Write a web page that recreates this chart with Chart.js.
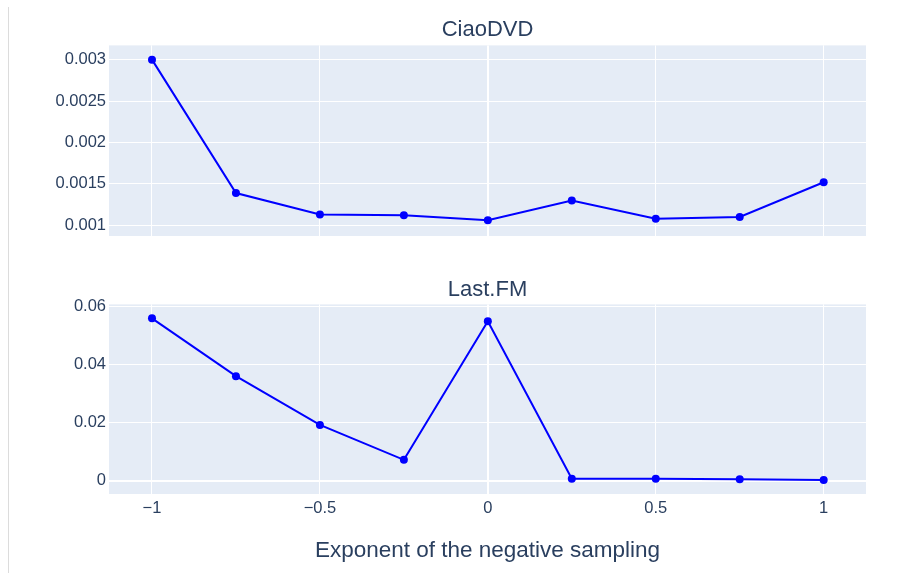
<!DOCTYPE html>
<html lang="en">
<head>
  <meta charset="UTF-8">
  <title>Exponent of the negative sampling</title>
  <script src="https://cdn.jsdelivr.net/npm/chart.js"></script>
  <style>
    body {
      margin: 0;
      background: #fff;
      width: 909px;
      height: 573px;
      position: relative;
      overflow: hidden;
      font-family: "Liberation Sans", Arial, sans-serif;
    }
    #edge {
      position: absolute;
      left: 8px;
      top: 7px;
      width: 1px;
      height: 566px;
      background: #dcdcdc;
    }
    canvas { position: absolute; left: 0; }
    #topChart { top: 0; }
    #bottomChart { top: 250px; }
  </style>
</head>
<body>
  <div id="edge"></div>
  <canvas id="topChart" width="909" height="250"></canvas>
  <canvas id="bottomChart" width="909" height="323"></canvas>

  <script>
    // exponent values (x)
    const exponents = [-1, -0.75, -0.5, -0.25, 0, 0.25, 0.5, 0.75, 1];
    // CiaoDVD
    const ciaoValues = [0.003, 0.00139, 0.00113, 0.00112, 0.00106, 0.0013, 0.00108, 0.0011, 0.00152];
    // Last.FM
    const lastfmValues = [0.0559, 0.036, 0.0192, 0.0072, 0.0549, 0.0007, 0.0007, 0.0005, 0.0003];

    const xTicks = [-1, -0.5, 0, 0.5, 1];
    const ciaoTicks = [0.001, 0.0015, 0.002, 0.0025, 0.003];
    const lastfmTicks = [0, 0.02, 0.04, 0.06];

    const fontFam = '"Liberation Sans", Arial, sans-serif';
    const textCol = '#2a3f5f';

    // fond du plot
    const bgPlugin = {
      id: 'plotBg',
      beforeDraw(chart) {
        const a = chart.chartArea;
        chart.ctx.save();
        chart.ctx.fillStyle = '#e5ecf6';
        chart.ctx.fillRect(a.left, a.top, a.right - a.left, a.bottom - a.top);
        chart.ctx.restore();
      }
    };

    function fmt(v) {
      return String(v).replace('-', '\u2212');
    }

    function zeroWidth(c) {
      return c.tick && c.tick.value === 0 ? 2 : 1;
    }

    function makeChart(id, values, yTicks, yMin, yMax, title, titlePad, bottom) {
      const ctx = document.getElementById(id).getContext('2d');
      return new Chart(ctx, {
        type: 'line',
        data: {
          datasets: [{
            data: exponents.map((x, i) => ({ x: x, y: values[i] })),
            borderColor: '#0000ff',
            backgroundColor: '#0000ff',
            borderWidth: 2,
            pointRadius: 4,
            pointHoverRadius: 4,
            pointBorderWidth: 0,
            tension: 0
          }]
        },
        options: {
          responsive: false,
          animation: false,
          layout: { padding: { left: 0, right: 43, top: 0, bottom: bottom ? 0 : 14 } },
          plugins: {
            legend: { display: false },
            tooltip: { enabled: false },
            title: {
              display: true,
              fullSize: false,
              text: title,
              color: textCol,
              font: { family: fontFam, size: 22, weight: 'normal' },
              padding: titlePad
            }
          },
          scales: {
            x: {
              type: 'linear',
              min: -1.128,
              max: 1.126,
              border: { display: false },
              grid: { color: '#ffffff', lineWidth: zeroWidth, drawTicks: false },
              afterBuildTicks: s => { s.ticks = xTicks.map(v => ({ value: v })); },
              afterFit: s => { s.height = bottom ? 79 : 0; },
              ticks: {
                display: bottom,
                padding: 5,
                color: textCol,
                font: { family: fontFam, size: 16.5 },
                callback: v => fmt(v)
              },
              title: {
                display: bottom,
                text: 'Exponent of the negative sampling',
                color: textCol,
                font: { family: fontFam, size: 22.5 },
                padding: { top: 0, bottom: 9 }
              }
            },
            y: {
              min: yMin,
              max: yMax,
              border: { display: false },
              grid: { color: '#ffffff', lineWidth: zeroWidth, drawTicks: false },
              afterBuildTicks: s => { s.ticks = yTicks.map(v => ({ value: v })); },
              afterFit: s => { s.width = 109; },
              ticks: {
                padding: 3,
                color: textCol,
                font: { family: fontFam, size: 16.5 },
                callback: v => fmt(v)
              }
            }
          }
        },
        plugins: [bgPlugin]
      });
    }

    makeChart('topChart', ciaoValues, ciaoTicks, 0.000871, 0.003172, 'CiaoDVD', { top: 17, bottom: 2 }, false);
    makeChart('bottomChart', lastfmValues, lastfmTicks, -0.00456, 0.0607, 'Last.FM', { top: 27, bottom: 1 }, true);
  </script>
</body>
</html>
